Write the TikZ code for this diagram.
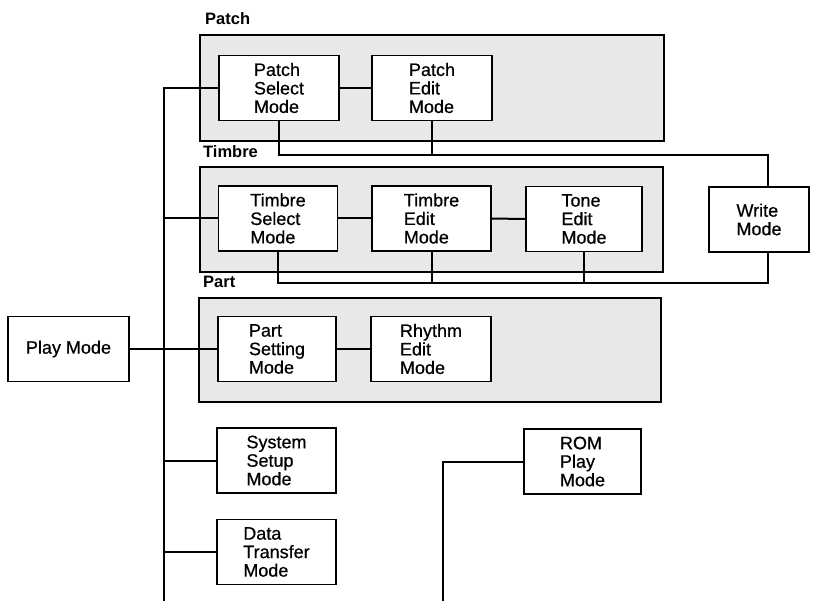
\documentclass[tikz,border=0pt]{standalone}
\usepackage{fontspec}
\setmainfont{Liberation Sans}
\newfontfamily\medfont[FakeBold=0.6]{Liberation Sans}

\begin{document}
\begin{tikzpicture}[x=1pt, y=-1pt, font=\medfont\fontsize{18}{18.5}\selectfont,
	modebox/.style={draw, fill=white, line width=1.3pt, align=left, inner sep=0pt, minimum width=#1, minimum height=65pt},
	modebox/.default=119pt,
	group/.style={draw, line width=1.1pt, fill=black!9},
	grouplabel/.style={font=\bfseries\fontsize{16.5}{18}\selectfont, anchor=base west, inner sep=0pt},
	link/.style={line width=2pt}]
		\useasboundingbox (0,0) rectangle (814,601);
		% group frames
		\draw[group] (200,35) rectangle (664,141);
		\draw[group] (200,167) rectangle (663,272);
		\draw[group] (199,298) rectangle (661,402);
		\node[grouplabel] (patchlbl) at (205,25) {Patch};
		\node[grouplabel] (timbrelbl) at (203,158) {Timbre};
		\node[grouplabel] (partlbl) at (203,288) {Part};
		% modes
		\node[modebox=120pt] (patchsel) at (279,88) {Patch\\Select\\Mode};
		\node[modebox=120pt] (patchedit) at (432,88) {Patch\\Edit\\Mode};
		\node[modebox] (timbsel) at (278,218.5) {Timbre\\Select\\Mode};
		\node[modebox] (timbedit) at (431.5,218.5) {Timbre\\Edit\\Mode};
		\node[modebox=116pt] (toneedit) at (584,219) {Tone\\Edit\\Mode};
		\node[modebox=100pt] (write) at (759,219.5) {Write\\Mode};
		\node[modebox=121pt] (play) at (68.5,349) {Play Mode};
		\node[modebox=118pt] (partset) at (277,349) {Part\\Setting\\Mode};
		\node[modebox=120pt] (rhythm) at (431,349) {Rhythm\\Edit\\Mode};
		\node[modebox] (system) at (276.5,460.5) {System\\Setup\\Mode};
		\node[modebox] (data) at (276.5,552) {Data\\Transfer\\Mode};
		\node[modebox=117pt] (rom) at (582.5,461.5) {ROM\\Play\\Mode};
		% main trunk from the play mode
		\coordinate (trunkend) at (164,601);
		\coordinate (romend) at (443,601);
		\draw[link] (patchsel.west) -| (trunkend);
		\foreach \m in {timbsel, system, data} {
			\draw[link] (\m.west) -- (\m.west -| trunkend);
		}
		\draw[link] (play) -- (partset);
		\draw[link] (patchsel) -- (patchedit);
		\draw[link] (timbsel) -- (timbedit);
		\draw[link] (timbedit) -- (toneedit);
		\draw[link] (partset) -- (rhythm);
		% paths to the write mode
		\draw[link] (patchsel.south) -- ++(0,34) coordinate (wtop) -| ([xshift=9pt]write.north);
		\draw[link] (patchedit.south) -- (patchedit.south |- wtop);
		\draw[link] (timbsel.south) -- ++(0,31) coordinate (wbot) -| ([xshift=9pt]write.south);
		\foreach \m in {timbedit, toneedit} {
			\draw[link] (\m.south) -- (\m.south |- wbot);
		}
		% rom play
		\draw[link] (rom.west) -| (romend);
	\end{tikzpicture}
\end{document}
